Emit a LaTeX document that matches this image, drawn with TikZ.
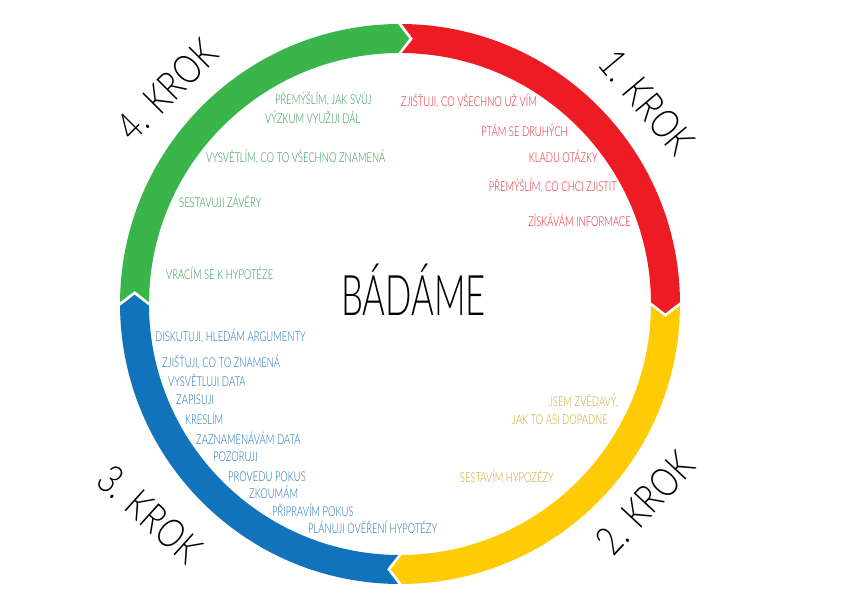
\documentclass[tikz,border=0pt]{standalone}
\usepackage{fontspec}
\setmainfont{Lato Light}
\newfontfamily\decofont[FakeStretch=0.7]{Lato Light}
\newfontfamily\titlefont[FakeStretch=0.62]{Lato Light}
\newfontfamily\krokfont[FakeStretch=0.8]{Lato Light}
\usetikzlibrary{calc}

\definecolor{krokred}{HTML}{ED1C24}
\definecolor{krokyellow}{HTML}{FFCB05}
\definecolor{krokblue}{HTML}{1273BD}
\definecolor{krokgreen}{HTML}{3AB54A}
\definecolor{txtgreen}{HTML}{27964A}
\definecolor{txtblue}{HTML}{1570B8}
\definecolor{txtyellow}{HTML}{CFA21E}

\begin{document}
\begin{tikzpicture}[x=1pt, y=1pt,
  popis/.style={font=\decofont\fontsize{13.5}{15}\selectfont, inner sep=0pt},
  krok/.style={font=\krokfont\fontsize{40}{44}\selectfont, inner sep=0pt}]
  \useasboundingbox (0,0) rectangle (842,595);
  \coordinate (c) at (400,291);

  % segmenty kruhu
  \foreach \a/\col in {90/krokred, 0/krokyellow, -90/krokblue, 180/krokgreen} {
    \fill[\col] ($(c)+(\a-0.4:280)$) arc[start angle=\a-0.4, end angle=\a-89.6, radius=280]
      -- ($(c)+(\a-92:265.5)$) -- ($(c)+(\a-89.6:251)$)
      arc[start angle=\a-89.6, end angle=\a-0.4, radius=251]
      -- ($(c)+(\a-2.8:265.5)$) -- cycle;
  }

  \node[font=\titlefont\fontsize{56}{60}\selectfont, inner sep=0pt, anchor=base] (badame) at (413.5,280) {BÁDÁME};

  % kroky
  \node[krok, rotate=-50] (krok1) at (647,493) {1. KROK};
  \node[krok, rotate=47] (krok2) at (645,92) {2. KROK};
  \node[krok, rotate=-42] (krok3) at (150,81) {3. KROK};
  \node[krok, rotate=45] (krok4) at (167,505) {4. KROK};

  % 1. krok
  \foreach \x/\y/\t [count=\i] in {537/488.5/{ZJIŠŤUJI, CO VŠECHNO UŽ VÍM}, 568/458.5/{PTÁM SE DRUHÝCH},
      598/432.5/{KLADU OTÁZKY}, 617/403.5/{PŘEMÝŠLÍM, CO CHCI ZJISTIT}, 631/368.5/{ZÍSKÁVÁM INFORMACE}}
    \node[popis, krokred, anchor=base east] (red\i) at (\x,\y) {\t};

  % 2. krok
  \foreach \x/\y/\t [count=\i] in {618/188.5/{JSEM ZVĚDAVÝ,}, 608/170.5/{JAK TO ASI DOPADNE},
      554/112.5/{SESTAVÍM HYPOZÉZY}}
    \node[popis, txtyellow, anchor=base east] (yellow\i) at (\x,\y) {\t};

  % 3. krok
  \foreach \x/\y/\t [count=\i] in {155/253.5/{DISKUTUJI, HLEDÁM ARGUMENTY}, 162/227.5/{ZJIŠŤUJI, CO TO ZNAMENÁ},
      168/208.5/{VYSVĚTLUJI DATA}, 176/190.5/{ZAPISUJI}, 185/170.5/{KRESLÍM},
      196/150.5/{ZAZNAMENÁVÁM DATA}, 213/133.5/{POZORUJI}, 228/113.5/{PROVEDU POKUS},
      249/96.5/{ZKOUMÁM}, 272/78.5/{PŘIPRAVÍM POKUS}, 308/61.5/{PLÁNUJI OVĚŘENÍ HYPOTÉZY}}
    \node[popis, txtblue, anchor=base west] (blue\i) at (\x,\y) {\t};

  % 4. krok
  \foreach \x/\y/\t [count=\i] in {275/490.5/{PŘEMÝŠLÍM, JAK SVŮJ}, 265/471.5/{VÝZKUM VYUŽIJI DÁL},
      206/432.5/{VYSVĚTLÍM, CO TO VŠECHNO ZNAMENÁ}, 179/387.5/{SESTAVUJI ZÁVĚRY},
      166/315.5/{VRACÍM SE K HYPOTÉZE}}
    \node[popis, txtgreen, anchor=base west] (green\i) at (\x,\y) {\t};
\end{tikzpicture}
\end{document}
